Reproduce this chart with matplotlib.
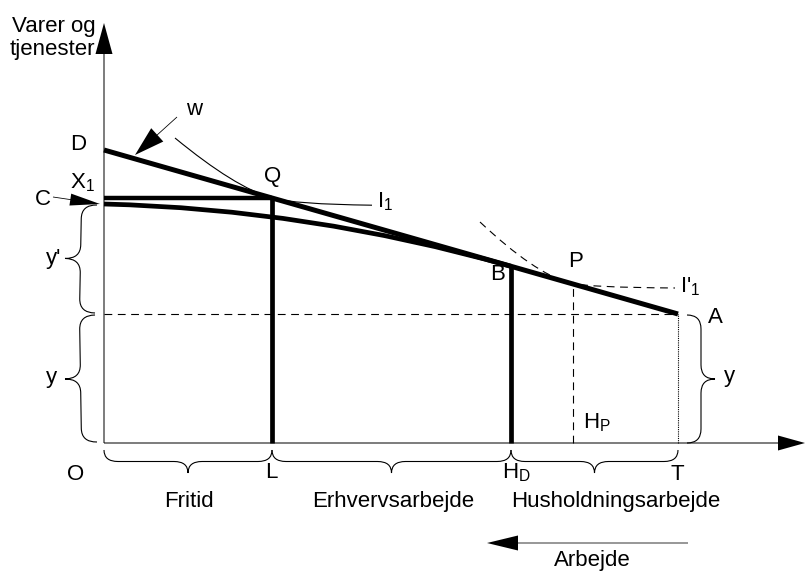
import numpy as np
import matplotlib
matplotlib.use('Agg')
from matplotlib import pyplot as plt
from matplotlib.path import Path
from matplotlib.patches import PathPatch

plt.rcParams['font.family'] = ['Liberation Sans', 'DejaVu Sans']
plt.rcParams['mathtext.default'] = 'regular'

# diagram values (origin in O, units about one pixel)
T = 574          # total time
L = 168          # fritid
H_D = 407        # hvor husholdningsarbejde starter
H_P = 469
y_inc = 129      # ikke-arbejdsindkomst, punkt A
D_y = 293        # lønlinjens skæring med y-aksen
C_y = 239        # produktionskurvens start

w = (D_y - y_inc) / T
def budget(x):
    return D_y - w * x

X1 = budget(L)
B_y = budget(H_D)
P_y = budget(H_P)

# control points for the curves (quadratic bezier)
prod_pts = [(0, C_y), (205, 234), (H_D, B_y)]
i1_pts = [(71, 305), (131, budget(131)), (L, X1), (190, budget(190)), (268, 237.8)]
i1b_pts = [(376, 221), (430, budget(430)), (465, budget(465)), (481, budget(481)), (571, 155)]

FS = 16


def bezier(ax, pts, **kw):
    codes = [Path.MOVETO] + [Path.CURVE3] * (len(pts) - 1)
    ax.add_patch(PathPatch(Path(pts, codes), fill=False, **kw))


def brace(ax, p0, p1, depth, lw=0.8):
    p0 = np.array(p0, float)
    p1 = np.array(p1, float)
    d = p1 - p0
    ln = np.hypot(d[0], d[1])
    u = d / ln
    n = np.array([-u[1], u[0]])
    h = depth
    r = min(14, ln / 4)
    m = ln / 2
    local = [(0, 0), (0, h / 2), (r, h / 2), (m - r, h / 2), (m, h / 2), (m, h),
             (m, h / 2), (m + r, h / 2), (ln - r, h / 2), (ln, h / 2), (ln, 0)]
    codes = [Path.MOVETO, Path.CURVE3, Path.CURVE3, Path.LINETO, Path.CURVE3, Path.CURVE3,
             Path.CURVE3, Path.CURVE3, Path.LINETO, Path.CURVE3, Path.CURVE3]
    pts = [p0 + a * u + b * n for a, b in local]
    ax.add_patch(PathPatch(Path(pts, codes), fill=False, lw=lw, color='k'))


fig = plt.figure(figsize=(8.06, 5.71), dpi=100)
ax = fig.add_axes([0, 0, 1, 1])
ax.set_xlim(-104, 702)
ax.set_ylim(-128, 443)
ax.axis('off')

# akser
ax.arrow(0, 0, 0, 420, width=1, head_width=17, head_length=31, length_includes_head=True, color='k', lw=0)
ax.arrow(0, 0, 701, 0, width=1, head_width=15, head_length=27, length_includes_head=True, color='k', lw=0)

# hjælpelinjer
ax.plot([0, T], [y_inc, y_inc], color='k', lw=0.8, ls=(0, (7, 5)))
ax.plot([H_P, H_P], [0, P_y - 3], color='k', lw=0.8, ls=(0, (7, 5)))
ax.plot([T, T], [0, y_inc], color='k', lw=0.8, ls=(0, (1, 1)))

# indifferenskurver
bezier(ax, i1_pts, lw=0.8, color='k')
bezier(ax, i1b_pts, lw=0.8, color='k', ls=(0, (7, 5)))

# tykke linjer
ax.plot([0, T], [D_y, y_inc], color='k', lw=3.6, solid_capstyle='butt', zorder=5)
bezier(ax, prod_pts, lw=3.4, color='k', zorder=5)
ax.plot([0, L], [X1, X1], color='k', lw=3.2, solid_capstyle='butt', zorder=5)
ax.plot([L, L], [0, X1], color='k', lw=3.4, solid_capstyle='butt', zorder=5)
ax.plot([H_D, H_D], [0, B_y], color='k', lw=3.4, solid_capstyle='butt', zorder=5)

# pile
ax.arrow(73, 326, -42, -38, width=0.8, head_width=18, head_length=30, length_includes_head=True, color='k', lw=0)
ax.arrow(-51, 246, 47, -7, width=0.8, head_width=12, head_length=30, length_includes_head=True, color='k', lw=0)
ax.arrow(584, -100, -201, 0, width=0.8, head_width=15, head_length=31, length_includes_head=True, color='k', lw=0)

# klammer
brace(ax, (-7, 238), (-9, y_inc + 1), -31)
brace(ax, (-9, y_inc - 1), (-7, 1), -31)
brace(ax, (0, -7), (L, -7), -23)
brace(ax, (L, -7), (H_D, -7), -23)
brace(ax, (H_D, -7), (T, -7), -23)
brace(ax, (583, y_inc - 1), (583, 0), 28)

# tekster
def lab(x, y, s, ha='center'):
    ax.text(x, y, s, fontsize=FS, ha=ha, va='baseline')

lab(-92, 411, 'Varer og', ha='left')
lab(-94, 388, 'tjenester', ha='left')
lab(-26, 293, 'D')
lab(-34, 255, 'X$_1$', ha='left')
lab(-61, 238, 'C')
lab(L + 1, 261, 'Q')
lab(90, 328, 'w')
lab(273, 236, 'I$_1$', ha='left')
lab(H_D - 13, 163, 'B')
lab(H_P + 3, 176, 'P')
lab(576, 151, "I'$_1$", ha='left')
lab(611, 120, 'A')
lab(625, 61, 'y')
lab(-50, 179, "y'")
lab(-53, 60, 'y')
lab(-28, -37, 'O')
lab(L - 1, -35, 'L')
lab(H_D - 9, -35, 'H$_D$', ha='left')
lab(T - 1, -37, 'T')
lab(H_P + 10, 15, 'H$_P$', ha='left')
lab(85, -64, 'Fritid')
lab(289, -64, 'Erhvervsarbejde')
lab(512, -64, 'Husholdningsarbejde')
lab(488, -123, 'Arbejde')

plt.savefig('out.png', dpi=100)
